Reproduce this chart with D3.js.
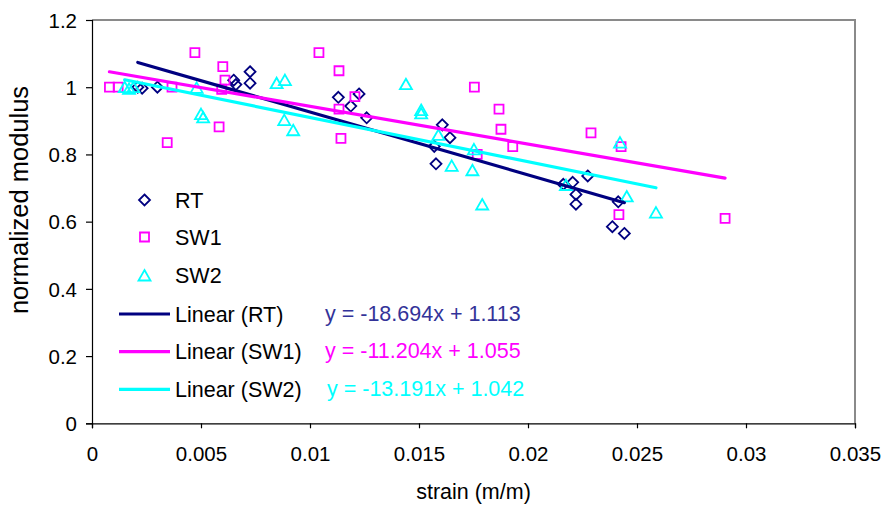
<!DOCTYPE html>
<html>
<head>
<meta charset="utf-8">
<script src="https://cdn.jsdelivr.net/npm/d3@7"></script>
<style>
  html, body { margin: 0; padding: 0; background: #fff; }
  svg { display: block; font-family: "Liberation Sans", Arial, sans-serif; }
</style>
</head>
<body>
<svg id="chart" width="886" height="509"></svg>
<script>
// ---- data ----
const seriesNames = ["RT", "SW1", "SW2"];
const rtX = [0.0021, 0.0023, 0.0030, 0.0065, 0.0066, 0.00725, 0.00725, 0.0113, 0.01187, 0.01225, 0.0126, 0.01607, 0.01642, 0.0157, 0.01578, 0.02162, 0.02205, 0.0222, 0.0222, 0.02274, 0.02414, 0.02387, 0.02442];
const rtY = [1.0, 0.997, 1.0, 1.021, 1.008, 1.046, 1.012, 0.970, 0.944, 0.980, 0.909, 0.888, 0.850, 0.824, 0.772, 0.711, 0.717, 0.681, 0.652, 0.736, 0.659, 0.585, 0.565];
const sw1X = [0.0008, 0.0012, 0.00345, 0.00367, 0.00472, 0.0060, 0.0061, 0.00595, 0.00583, 0.01041, 0.01133, 0.01206, 0.01133, 0.01142, 0.01754, 0.01867, 0.01876, 0.0193, 0.01767, 0.02289, 0.02427, 0.02417, 0.02904];
const sw1Y = [1.0, 1.0, 0.835, 1.0, 1.103, 1.061, 1.021, 0.994, 0.882, 1.103, 1.049, 0.972, 0.935, 0.848, 1.0, 0.935, 0.875, 0.823, 0.800, 0.864, 0.823, 0.621, 0.610];
const sw2X = [0.0015, 0.0017, 0.0019, 0.0048, 0.0050, 0.0051, 0.00847, 0.00885, 0.00882, 0.00923, 0.0144, 0.0151, 0.0151, 0.01589, 0.0165, 0.01745, 0.01752, 0.0179, 0.02174, 0.02422, 0.02453, 0.02587];
const sw2Y = [1.0, 0.995, 1.0, 0.998, 0.92, 0.91, 1.012, 1.021, 0.902, 0.872, 1.009, 0.932, 0.922, 0.858, 0.766, 0.753, 0.815, 0.651, 0.709, 0.835, 0.675, 0.627];
const trendSlopes = [-18.694, -11.204, -13.191];
const trendIntercepts = [1.113, 1.055, 1.042];
const equationLabels = ["y = -18.694x + 1.113", "y = -11.204x + 1.055", "y = -13.191x + 1.042"];
const xTicks = [0, 0.005, 0.01, 0.015, 0.02, 0.025, 0.03, 0.035];
const xTickLabels = ["0", "0.005", "0.01", "0.015", "0.02", "0.025", "0.03", "0.035"];
const yTicks = [0, 0.2, 0.4, 0.6, 0.8, 1.0, 1.2];
const yTickLabels = ["0", "0.2", "0.4", "0.6", "0.8", "1", "1.2"];
const xTitle = "strain (m/m)";
const yTitle = "normalized modulus";

// ---- styles ----
const colors = ["#000080", "#ff00ff", "#00ffff"];
const eqColors = ["#333399", "#ff00ff", "#00ffff"];
const shapes = ["diamond", "square", "triangle"];

const svg = d3.select("#chart");
const plot = { left: 92, right: 855, top: 20, bottom: 423.3 };

const x = d3.scaleLinear().domain([0, 0.035]).range([plot.left, plot.right]);
const y = d3.scaleLinear().domain([0, 1.2]).range([plot.bottom, plot.top]);

// plot border (top/right gray)
svg.append("path")
  .attr("d", `M${plot.left},${plot.top}H${plot.right}V${plot.bottom}`)
  .attr("fill", "none").attr("stroke", "#8a8a8a").attr("stroke-width", 2);

// axes
const xAxis = d3.axisBottom(x).tickValues(xTicks).tickFormat((d, i) => xTickLabels[i]).tickSizeOuter(0).tickSize(5);
const yAxis = d3.axisLeft(y).tickValues(yTicks).tickFormat((d, i) => yTickLabels[i]).tickSizeOuter(0).tickSize(6);

const gx = svg.append("g").attr("transform", `translate(0,${plot.bottom})`).call(xAxis);
const gy = svg.append("g").attr("transform", `translate(${plot.left},0)`).call(yAxis);
[gx, gy].forEach(g => {
  g.select(".domain").attr("stroke", "#000").attr("stroke-width", 1.2);
  g.selectAll(".tick line").attr("stroke", "#000").attr("stroke-width", 1.2);
  g.selectAll(".tick text").attr("fill", "#000").style("font-size", "20.5px").style("font-family", "'Liberation Sans', Arial, sans-serif");
});
gx.selectAll(".tick text").attr("dy", null).attr("y", 0).attr("transform", "translate(0,37.5)");
gy.selectAll(".tick text").attr("x", -15).attr("dy", "0.35em");

// axis titles
svg.append("text").attr("x", (plot.left + plot.right) / 2).attr("y", 498.5)
  .attr("text-anchor", "middle").style("font-size", "21.5px").text(xTitle);
svg.append("text").attr("transform", "translate(28,200) rotate(-90)")
  .attr("text-anchor", "middle").style("font-size", "25.5px").text(yTitle);

// marker symbol builder
function marker(g, shape, color, cx, cy) {
  let d;
  if (shape === "diamond") d = `M${cx},${cy - 5.5}L${cx + 5.5},${cy}L${cx},${cy + 5.5}L${cx - 5.5},${cy}Z`;
  else if (shape === "square") d = `M${cx - 4.5},${cy - 4.5}h9v9h-9Z`;
  else d = `M${cx},${cy - 5.5}L${cx + 6},${cy + 5}L${cx - 6},${cy + 5}Z`;
  g.append("path").attr("d", d).attr("fill", "none").attr("stroke", color).attr("stroke-width", 1.8);
}

const series = [
  { xs: rtX, ys: rtY },
  { xs: sw1X, ys: sw1Y },
  { xs: sw2X, ys: sw2Y }
];

// markers
series.forEach((s, k) => {
  const g = svg.append("g");
  s.xs.forEach((xv, i) => marker(g, shapes[k], colors[k], x(xv), y(s.ys[i])));
});

// trendlines
series.forEach((s, k) => {
  const [x0, x1] = d3.extent(s.xs);
  svg.append("line")
    .attr("x1", x(x0)).attr("y1", y(trendSlopes[k] * x0 + trendIntercepts[k]))
    .attr("x2", x(x1)).attr("y2", y(trendSlopes[k] * x1 + trendIntercepts[k]))
    .attr("stroke", colors[k]).attr("stroke-width", 3.2).attr("stroke-linecap", "round");
});

// legend
const leg = svg.append("g");
const rowY = [200, 237, 275.5, 314, 351.7, 389.3];
seriesNames.forEach((n, k) => {
  marker(leg, shapes[k], colors[k], 144.5, rowY[k]);
  leg.append("text").attr("x", 175).attr("y", rowY[k]).attr("dy", "0.35em")
    .style("font-size", "21.5px").attr("fill", "#000").text(n);
});
seriesNames.forEach((n, k) => {
  const ry = rowY[k + 3];
  leg.append("line").attr("x1", 119).attr("x2", 170).attr("y1", ry).attr("y2", ry)
    .attr("stroke", colors[k]).attr("stroke-width", 3.2);
  leg.append("text").attr("x", 175).attr("y", ry).attr("dy", "0.35em")
    .style("font-size", "21.5px").attr("fill", "#000").text(`Linear (${n})`);
});

// equations
equationLabels.forEach((t, k) => {
  svg.append("text").attr("x", k === 2 ? 327 : 325).attr("y", rowY[k + 3] - 1).attr("dy", "0.35em")
    .style("font-size", "21.5px").attr("fill", eqColors[k]).text(t);
});
</script>
</body>
</html>
